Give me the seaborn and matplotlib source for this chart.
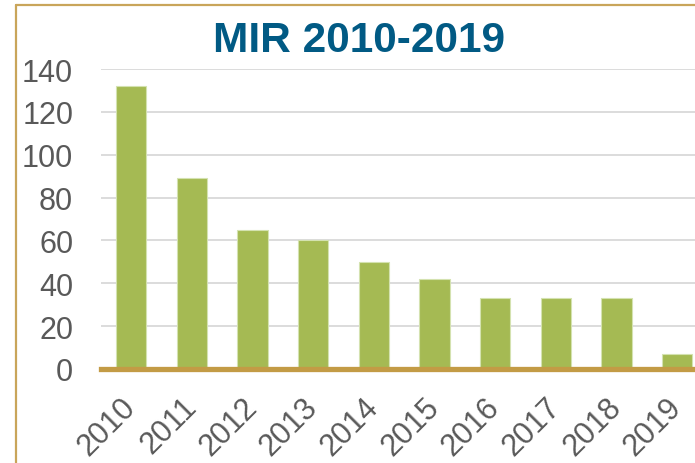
import matplotlib
matplotlib.use("Agg")
import matplotlib.pyplot as plt
import seaborn as sns
import pandas as pd
from matplotlib.lines import Line2D

years = ["2010", "2011", "2012", "2013", "2014", "2015", "2016", "2017", "2018", "2019"]
values = [132, 89, 65, 60, 50, 42, 33, 33, 33, 7]
yticks = [0, 20, 40, 60, 80, 100, 120, 140]
title = "MIR 2010-2019"

sns.set_theme(style="white")
plt.rcParams["font.family"] = ["Liberation Sans", "DejaVu Sans"]

df = pd.DataFrame({"year": years, "value": values})

fig = plt.figure(figsize=(6.95, 4.64), dpi=100)
ax = fig.add_axes([101 / 695, 1 - 370 / 464, (707.6 - 101) / 695, (370 - 70) / 464])

sns.barplot(data=df, x="year", y="value", ax=ax, color="#A5BA53", width=0.5,
            edgecolor="#D4E2B0", linewidth=0.8, saturation=1, zorder=3)

ax.set_ylim(0, 140)
ax.set_xlim(-0.5, 9.5)
ax.set_yticks(yticks)
ax.set_yticklabels([str(v) for v in yticks], fontsize=22, color="#595959")
ax.grid(axis="y", color="#D9D9D9", linewidth=1.3, zorder=0)
ax.set_axisbelow(True)
for s in ["top", "right", "left"]:
    ax.spines[s].set_visible(False)
ax.spines["bottom"].set_color("#C39B45")
ax.spines["bottom"].set_linewidth(3.8)
ax.spines["bottom"].set_zorder(5)
ax.tick_params(axis="y", length=0, pad=20)
ax.tick_params(axis="x", length=0, pad=24)
ax.set_xlabel("")
ax.set_ylabel("")
for lbl in ax.get_xticklabels():
    lbl.set_rotation(45)
    lbl.set_ha("right")
    lbl.set_va("center")
    lbl.set_rotation_mode("anchor")
    lbl.set_fontsize(22)
    lbl.set_color("#595959")

fig.text(359 / 695, 1 - 41 / 464, title, ha="center", va="center",
         fontsize=30.5, fontweight="bold", color="#015A84")

fx = 16 / 695
fy = 1 - 6 / 464
fig.add_artist(Line2D([fx, fx], [0, fy], color="#C9A55A", linewidth=1.6, transform=fig.transFigure))
fig.add_artist(Line2D([fx, 1], [fy, fy], color="#C9A55A", linewidth=1.6, transform=fig.transFigure))

fig.savefig("out.png", dpi=100)
